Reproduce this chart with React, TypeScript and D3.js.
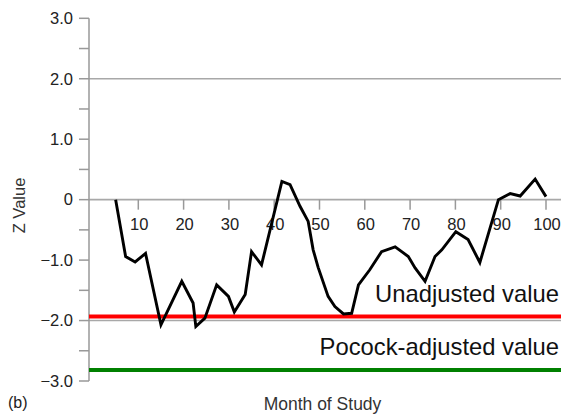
import React from "react";
import * as d3 from "d3";

const months = [5, 7.2, 9.3, 11.6, 15.0, 19.6, 22.1, 22.7, 24.7, 27.3, 29.9, 31.2, 33.6, 35.0, 37.2, 41.7, 43.5, 45.7, 47.5, 48.6, 49.7, 51.9, 53.4, 55.3, 57.1, 58.6, 61.1, 63.7, 66.7, 69.6, 71.1, 73.3, 75.5, 77.0, 80.1, 82.8, 85.4, 89.5, 92.1, 94.3, 97.6, 100];
const zValues = [0, -0.94, -1.03, -0.89, -2.07, -1.35, -1.71, -2.1, -1.96, -1.41, -1.6, -1.86, -1.57, -0.86, -1.08, 0.3, 0.25, -0.11, -0.36, -0.83, -1.12, -1.6, -1.77, -1.89, -1.88, -1.41, -1.16, -0.86, -0.78, -0.94, -1.13, -1.35, -0.94, -0.83, -0.53, -0.66, -1.04, 0, 0.1, 0.06, 0.34, 0.05];

const xTicks = [10, 20, 30, 40, 50, 60, 70, 80, 90, 100];
const yMajorTicks = [3, 2, 1, 0, -1, -2, -3];
const yMinorTicks = [2.5, 1.5, 0.5, -0.5, -1.5, -2.5];
const yTickLabels = ["3.0", "2.0", "1.0", "0", "\u22121.0", "\u22122.0", "\u22123.0"];
const gridValues = [2, 0, -2];
const thresholdValues = [-1.933, -2.818];
const thresholdLabels = ["Unadjusted value", "Pocock-adjusted value"];
const thresholdColors = ["#ff0000", "#008000"];

const W = 561;
const H = 414;
const FONT = "'Liberation Sans', Arial, Helvetica, sans-serif";

export default function App() {
  const x = d3.scaleLinear().domain([0, 100]).range([93, 546]);
  const y = d3.scaleLinear().domain([-3, 3]).range([381, 18.3]);
  const axisX = 89;

  const line = d3
    .line<number>()
    .x((_, i) => x(months[i]))
    .y((d) => y(d));

  return (
    <svg
      width={W}
      height={H}
      style={{ position: "absolute", left: 0, top: 0, background: "#fff" }}
      fontFamily={FONT}
    >
      <rect x={0} y={0} width={W} height={H} fill="#fff" />
      {gridValues.map((v) => (
        <line key={"g" + v} x1={axisX} x2={W} y1={y(v)} y2={y(v)} stroke="#a8a8a8" strokeWidth={1.6} />
      ))}
      <line x1={axisX} x2={axisX} y1={y(3)} y2={y(-3)} stroke="#999" strokeWidth={1.5} />
      {yMajorTicks.map((v, i) => (
        <g key={"ym" + v}>
          <line x1={axisX - 10} x2={axisX} y1={y(v)} y2={y(v)} stroke="#999" strokeWidth={1.5} />
          <text x={73} y={y(v)} dy="0.35em" textAnchor="end" fontSize={16.5} fill="#222">
            {yTickLabels[i]}
          </text>
        </g>
      ))}
      {yMinorTicks.map((v) => (
        <line key={"yn" + v} x1={axisX - 10} x2={axisX} y1={y(v)} y2={y(v)} stroke="#999" strokeWidth={1.5} />
      ))}
      {xTicks.map((t) => (
        <g key={"xt" + t}>
          <line x1={x(t)} x2={x(t)} y1={y(0)} y2={y(0) + 10} stroke="#999" strokeWidth={1.5} />
          <text x={x(t) + 1} y={230} textAnchor="middle" fontSize={16.5} fill="#222">
            {t}
          </text>
        </g>
      ))}
      {thresholdValues.map((v, i) => (
        <g key={"th" + i}>
          <line x1={axisX} x2={W} y1={y(v)} y2={y(v)} stroke={thresholdColors[i]} strokeWidth={4} />
          <text x={559} y={y(v) - 14.5} textAnchor="end" fontSize={23.8} fill="#111">
            {thresholdLabels[i]}
          </text>
        </g>
      ))}
      <path d={line(zValues) || ""} fill="none" stroke="#000" strokeWidth={2.9} strokeLinejoin="miter" />
      <text
        transform={`translate(25,205.5) rotate(-90)`}
        textAnchor="middle"
        fontSize={16.5}
        fill="#333"
      >
        Z Value
      </text>
      <text x={322.5} y={410} textAnchor="middle" fontSize={17.5} fill="#333">
        Month of Study
      </text>
      <text x={8} y={408} fontSize={16} fill="#222">
        (b)
      </text>
    </svg>
  );
}
